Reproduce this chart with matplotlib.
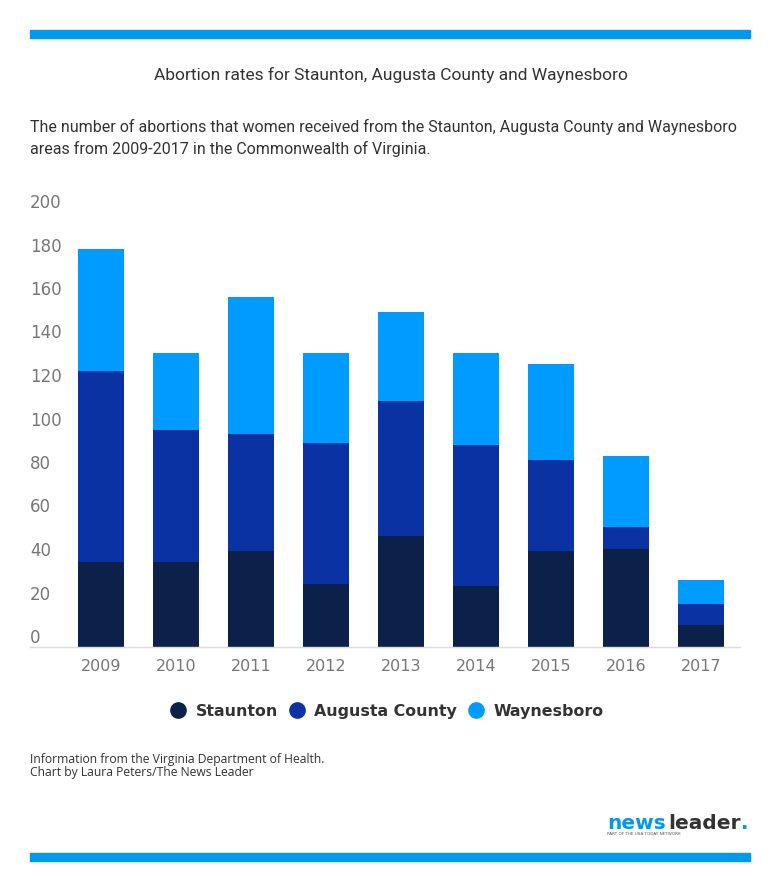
import matplotlib
matplotlib.use("Agg")
import matplotlib.pyplot as plt
from matplotlib.patches import Rectangle
from matplotlib.lines import Line2D
import numpy as np

# Data
years = ["2009", "2010", "2011", "2012", "2013", "2014", "2015", "2016", "2017"]
staunton = [39, 39, 44, 29, 51, 28, 44, 45, 10]
augusta = [88, 61, 54, 65, 62, 65, 42, 10, 10]
waynesboro = [56, 35, 63, 41, 41, 42, 44, 33, 11]
series_names = ["Staunton", "Augusta County", "Waynesboro"]
colors = ["#0b2149", "#0a32a3", "#009bff"]
yticks = [0, 20, 40, 60, 80, 100, 120, 140, 160, 180, 200]

W, H = 780, 878
fig = plt.figure(figsize=(W / 100, H / 100), dpi=100)
fig.patch.set_facecolor("white")


def fx(px):
    return px / W


def fy(py):
    return 1 - py / H


# blue rules top and bottom
fig.patches.append(Rectangle((fx(30), fy(39)), fx(720), 8 / H, transform=fig.transFigure,
                             color="#0099ee", zorder=5))
fig.patches.append(Rectangle((fx(30), fy(862)), fx(720), 8 / H, transform=fig.transFigure,
                             color="#0099ee", zorder=5))

fig.text(fx(391), fy(75), "Abortion rates for Staunton, Augusta County and Waynesboro",
         ha="center", va="center", family="Roboto", fontsize=12.5, color="#333333")
fig.text(fx(30), fy(127), "The number of abortions that women received from the Staunton, Augusta County and Waynesboro",
         ha="left", va="center", family="Roboto", fontsize=11.5, color="#333333")
fig.text(fx(30), fy(149), "areas from 2009-2017 in the Commonwealth of Virginia.",
         ha="left", va="center", family="Roboto", fontsize=11.5, color="#333333")

# plot area: baseline at y=648px, value 200 at 213px
ax = fig.add_axes([fx(30), fy(648), fx(710), (648 - 213) / H])
x = np.arange(len(years))
bottom = np.zeros(len(years))
for vals, name, c in zip([staunton, augusta, waynesboro], series_names, colors):
    ax.bar(x, vals, width=0.613, bottom=bottom, color=c, label=name, zorder=2)
    bottom += np.array(vals)

ax.set_xlim((30 - 101) / 75, (740 - 101) / 75)
ax.set_ylim(0, 200)
for s in ["top", "right", "left"]:
    ax.spines[s].set_visible(False)
ax.spines["bottom"].set_color("#dddddd")
ax.spines["bottom"].set_linewidth(1)
ax.set_yticks([])
ax.set_xticks(x)
ax.set_xticklabels(years, family="DejaVu Sans", fontsize=11.5, color="#777777")
ax.tick_params(axis="x", length=0, pad=8)

for v in yticks:
    ax.annotate(str(v), xy=(0, v), xycoords=ax.get_yaxis_transform(),
                xytext=(0, 10), textcoords="offset pixels", ha="left", va="center",
                family="DejaVu Sans", fontsize=12, color="#777777")

# legend
handles = [Line2D([0], [0], marker="o", linestyle="", markersize=11, markerfacecolor=c,
                  markeredgecolor=c) for c in colors]
fig.legend(handles, series_names, loc="center", bbox_to_anchor=(fx(386), fy(712)),
           ncol=3, frameon=False, handletextpad=0.5, columnspacing=0.6, handlelength=1.2,
           prop={"family": "DejaVu Sans", "weight": "bold", "size": 11.4},
           labelcolor="#333333")

fig.text(fx(30), fy(760), "Information from the Virginia Department of Health.",
         ha="left", va="center", family="Open Sans", fontsize=8.7, color="#333333")
fig.text(fx(30), fy(773), "Chart by Laura Peters/The News Leader",
         ha="left", va="center", family="Open Sans", fontsize=8.7, color="#333333")

# logo
t1 = fig.text(fx(607), fy(829), "news", ha="left", va="baseline", family="DejaVu Sans",
              weight="bold", fontsize=14.5, color="#0099ee")
fig.canvas.draw()
bb = t1.get_window_extent()
t2 = fig.text(bb.x1 / W + fx(3), fy(829), "leader", ha="left", va="baseline",
              family="DejaVu Sans", weight="bold", fontsize=14.5, color="#333333")
fig.canvas.draw()
bb2 = t2.get_window_extent()
fig.text(bb2.x1 / W, fy(829), ".", ha="left", va="baseline", family="DejaVu Sans",
         weight="bold", fontsize=14.5, color="#0099ee")
fig.text(fx(607), fy(834), "PART OF THE USA TODAY NETWORK", ha="left", va="center",
         family="DejaVu Sans", fontsize=3, color="#555555")

fig.savefig("out.png", dpi=100, facecolor="white")
